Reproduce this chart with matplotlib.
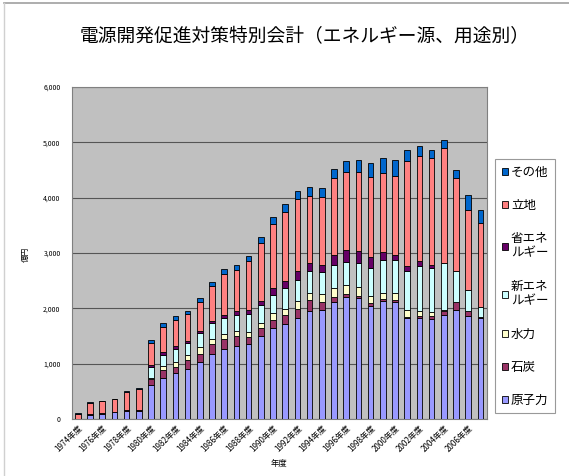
import matplotlib
matplotlib.use("Agg")
import matplotlib.pyplot as plt
import numpy as np

plt.rcParams['font.family'] = ['Noto Sans CJK JP', 'DejaVu Sans']

# data (億円)
years = list(range(1974, 2008))
genshiryoku = [0, 70, 95, 119, 137, 140, 606, 738, 835, 908, 1027, 1166, 1268, 1316, 1347,
               1491, 1641, 1720, 1821, 1948, 1973, 2110, 2213, 2182, 2045, 2123, 2105,
               1828, 1821, 1798, 1883, 1973, 1852, 1830]
sekitan = [0, 10, 10, 12, 15, 20, 110, 151, 102, 150, 151, 181, 169, 175, 131,
           157, 151, 150, 170, 193, 137, 103, 49, 49, 47, 36, 36,
           20, 31, 54, 77, 137, 90, 9]
suiryoku = [0, 0, 0, 0, 0, 0, 30, 66, 90, 90, 120, 102, 103, 90, 91,
            80, 120, 120, 137, 139, 152, 150, 155, 150, 126, 121, 132,
            125, 108, 78, 10, 0, 0, 0]
shin_ene = [0, 0, 0, 0, 0, 0, 190, 199, 229, 222, 253, 289, 289, 302, 332,
            330, 337, 370, 392, 390, 390, 428, 422, 433, 506, 601, 608,
            700, 800, 794, 844, 572, 392, 190]
sho_ene = [0, 0, 0, 0, 0, 0, 30, 54, 54, 36, 30, 29, 41, 59, 77,
           75, 121, 125, 162, 144, 133, 175, 217, 229, 211, 144, 85,
           100, 103, 67, 10, 0, 0, 0]
ricchi = [95, 210, 210, 220, 342, 385, 415, 451, 482, 494, 536, 639, 752, 758, 872,
          1050, 1155, 1265, 1295, 1222, 1220, 1382, 1413, 1414, 1444, 1414, 1431,
          1885, 1895, 1925, 2073, 1673, 1444, 1505]
sonota = [5, 10, 8, 8, 10, 13, 48, 72, 60, 55, 72, 78, 91, 85, 98,
          110, 132, 145, 149, 163, 163, 170, 199, 223, 240, 277, 283,
          200, 181, 145, 145, 145, 270, 240]

series = [
    ('原子力', genshiryoku, '#9999FF'),
    ('石炭', sekitan, '#993366'),
    ('水力', suiryoku, '#FFFFCC'),
    ('新エネ\nルギー', shin_ene, '#CCFFFF'),
    ('省エネ\nルギー', sho_ene, '#660066'),
    ('立地', ricchi, '#FF8080'),
    ('その他', sonota, '#0066CC'),
]

fig = plt.figure(figsize=(5.69, 4.76), dpi=100)
ax = fig.add_axes([0.126, 0.12, 0.73, 0.697])

x = np.arange(len(years))
bottom = np.zeros(len(years))
handles = []
for name, vals, col in series:
    b = ax.bar(x, vals, 0.45, bottom=bottom, color=col, edgecolor='black',
               linewidth=0.6, label=name, zorder=3)
    handles.append(b)
    bottom += np.array(vals)

ax.set_facecolor('#C0C0C0')
ax.set_xlim(-0.5, len(years) - 0.45)
ax.set_ylim(0, 6000)
ax.set_yticks(range(0, 6001, 1000))
ax.set_yticklabels(['{:,}'.format(v) for v in range(0, 6001, 1000)], fontsize=5)
ax.yaxis.grid(True, color='#555555', linewidth=0.8, zorder=0)
ax.tick_params(axis='both', length=0, pad=8)

ax.set_xticks(x[::2])
ax.set_xticklabels(['{}年度'.format(y) for y in years[::2]], fontsize=5.8,
                   rotation=45, ha='right', rotation_mode='anchor')
ax.tick_params(axis='x', pad=3)
for s in ax.spines.values():
    s.set_color('#808080')
    s.set_linewidth(0.8)

ax.set_xlabel('年度', fontsize=6, labelpad=4)
fig.text(0.045, 0.465, '億円', fontsize=5.5, rotation=90, ha='center', va='center')

fig.text(0.535, 0.922, '電源開発促進対策特別会計（エネルギー源、用途別）',
         fontsize=13.5, ha='center', va='center')

leg = ax.legend(handles[::-1], [s[0] for s in series][::-1],
                loc='center left', bbox_to_anchor=(1.02, 0.40),
                fontsize=9, frameon=True, fancybox=False, edgecolor='#808080',
                handlelength=0.5, handleheight=0.5, handletextpad=0.25,
                labelspacing=1.6, borderpad=0.5, borderaxespad=0)
leg.get_frame().set_linewidth(0.8)

# chart area border (top and left only visible)
fig.add_artist(plt.Line2D([0.007, 1.0], [0.993, 0.993], color='#A0A0A0', lw=1.2))
fig.add_artist(plt.Line2D([0.007, 0.007], [0.0, 0.993], color='#D0D0D0', lw=1.0))

fig.savefig('out.png', dpi=100)
